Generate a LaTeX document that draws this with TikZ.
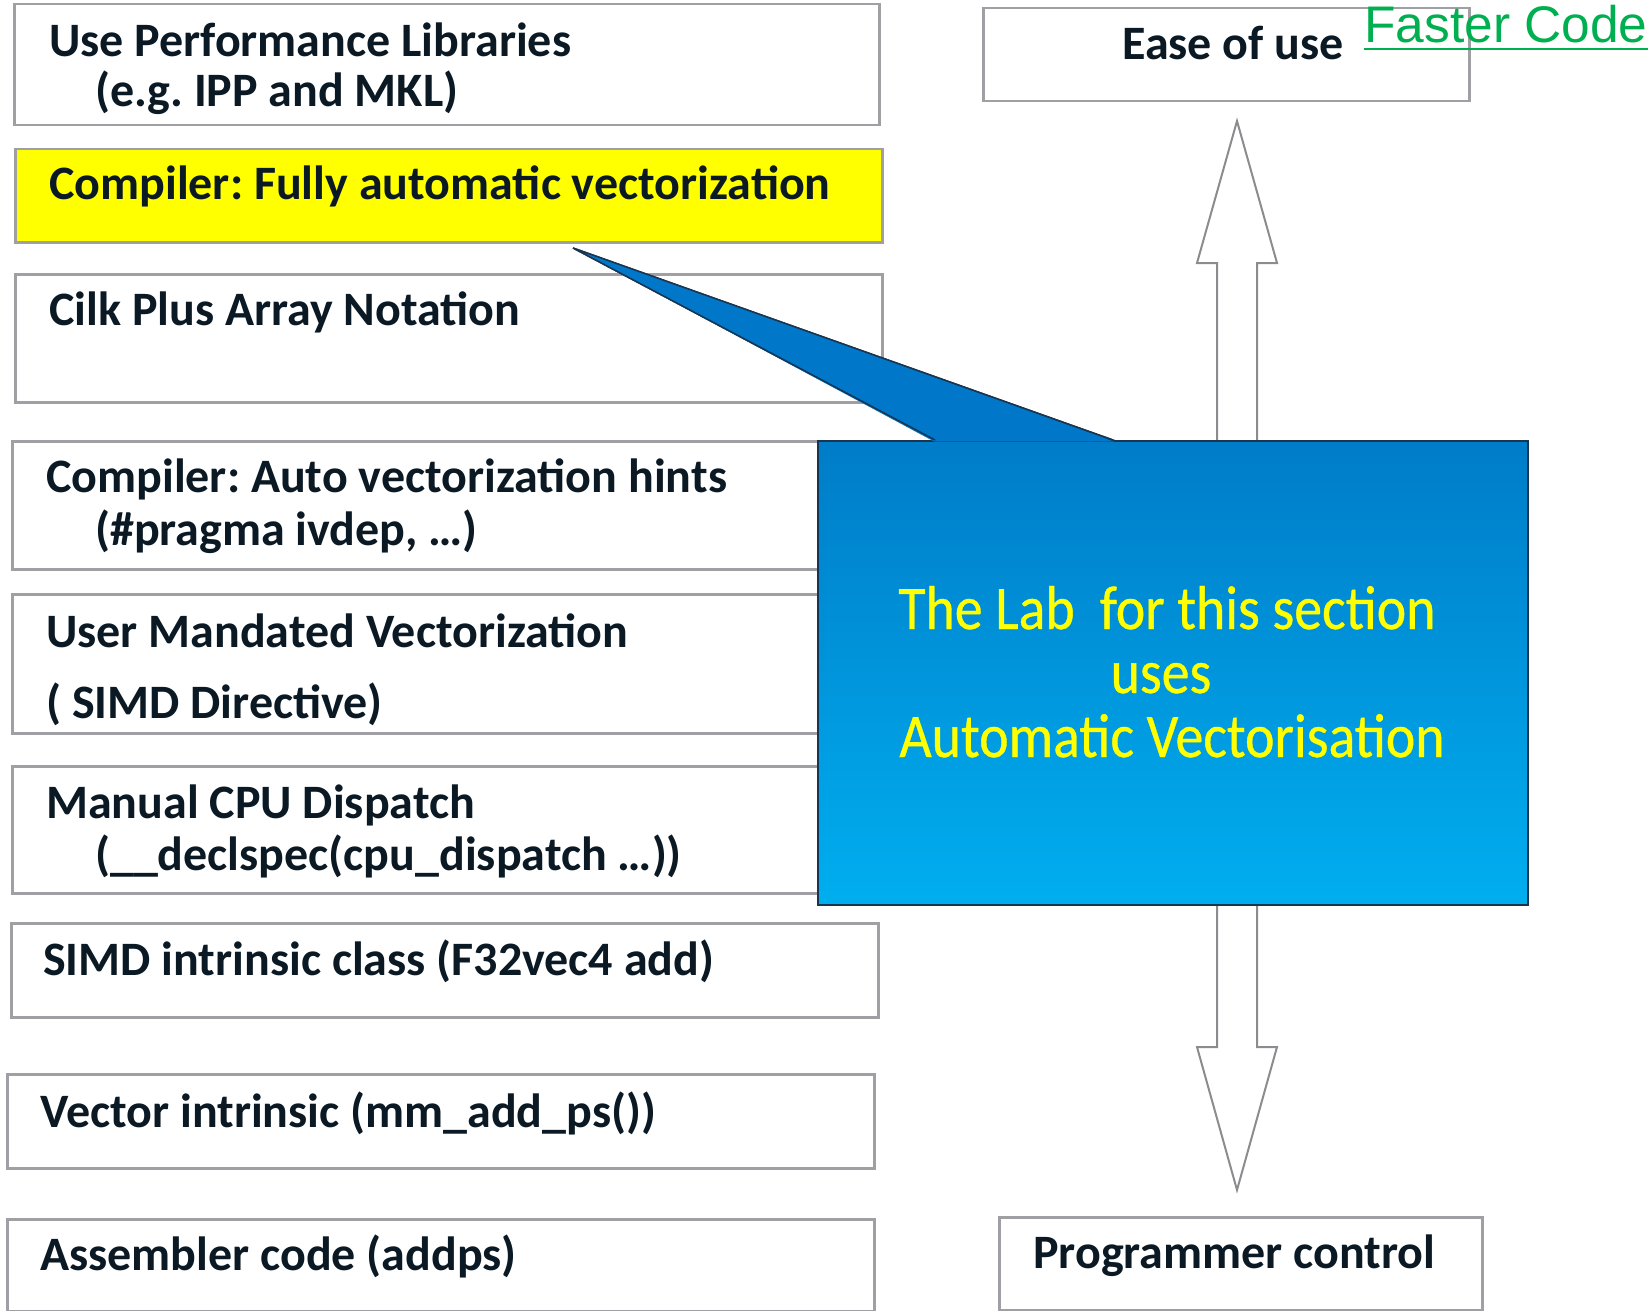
\documentclass[tikz,border=0pt]{standalone}
\usepackage{fontspec}
\setmainfont{Carlito}
\newfontfamily\callfont[FakeStretch=0.9,FakeBold=0.6]{Carlito}
\newfontfamily\fastfont{Liberation Sans}
\usetikzlibrary{calc}
\frenchspacing
\definecolor{boxline}{HTML}{A0A0A4}
\definecolor{boxtext}{HTML}{0A1923}
\definecolor{hiyellow}{HTML}{FFFF00}
\definecolor{calltop}{HTML}{007CC8}
\definecolor{callbot}{HTML}{00AEEF}
\definecolor{callptr}{HTML}{0077C8}
\definecolor{callline}{HTML}{1A3550}
\definecolor{arrowline}{HTML}{8C8C90}
\definecolor{fastgreen}{HTML}{00B050}
\tikzset{
  box/.style={draw=boxline, line width=2.5pt, fill=white, anchor=north west, inner sep=0pt},
  btext/.style={anchor=base west, inner sep=0pt, text=boxtext, font=\fontsize{48}{56}\selectfont\bfseries},
  ctext/.style={anchor=base, inner sep=0pt, text=hiyellow, font=\fontsize{62}{64}\selectfont\callfont},
}
\begin{document}
\begin{tikzpicture}[x=1pt,y=-1pt]
\useasboundingbox (0,0) rectangle (1652,1311);
% left boxes
\node[box, minimum width=865pt, minimum height=121pt] (b1) at (13,3) {};
\node[box, fill=hiyellow, minimum width=867pt, minimum height=93pt] (b2) at (14,148) {};
\node[box, minimum width=867pt, minimum height=128pt] (b3) at (14,273) {};
\node[box, minimum width=869pt, minimum height=128pt] (b4) at (11,440) {};
\node[box, minimum width=869pt, minimum height=139pt] (b5) at (11,593) {};
\node[box, minimum width=869pt, minimum height=127pt] (b6) at (11,765) {};
\node[box, minimum width=867pt, minimum height=94pt] (b7) at (10,922) {};
\node[box, minimum width=867pt, minimum height=94pt] (b8) at (6,1073) {};
\node[box, minimum width=867pt, minimum height=92pt] (b9) at (6,1218) {};
\node[btext] (t1a) at (49,57) {Use Performance Libraries};
\node[btext] (t1b) at (95,107) {(e.g. IPP and MKL)};
\node[btext] (t2) at (49,200) {Compiler: Fully automatic vectorization};
\node[btext] (t3) at (49,325) {Cilk Plus Array Notation};
\node[btext] (t4a) at (46,492) {Compiler: Auto vectorization hints};
\node[btext] (t4b) at (95,545) {(\#pragma ivdep, \dots)};
\node[btext] (t5a) at (46,647) {User Mandated Vectorization};
\node[btext] (t5b) at (46,718) {( SIMD Directive)};
\node[btext] (t6a) at (46,818) {Manual CPU Dispatch};
\node[btext] (t6b) at (95,870) {(\_\_declspec(cpu\_dispatch \dots))};
\node[btext] (t7) at (43,975) {SIMD intrinsic class (F32vec4 add)};
\node[btext] (t8) at (40,1127) {Vector intrinsic (mm\_add\_ps())};
\node[btext] (t9) at (40,1270) {Assembler code (addps)};
% right boxes
\node[box, minimum width=486pt, minimum height=93pt] (ease) at (982,7) {};
\node[btext] (teas) at (1122,60) {Ease of use};
\node[box, minimum width=483pt, minimum height=93pt] (prog) at (998,1216) {};
\node[btext] (tprog) at (1033,1268) {Programmer control};
\node[anchor=base west, inner sep=0pt, text=fastgreen, font=\fontsize{51.5}{56}\selectfont\fastfont] (fast) at (1364,43) {Faster Code};
\draw[fastgreen, line width=2.5pt] (fast.base west) ++(0,6) coordinate (ul1) -- (ul1 -| fast.base east);
% double block arrow
\draw[arrowline, line width=2pt, fill=white, line join=miter]
  (1237,121) -- (1277,263) -- (1257,263) -- (1257,1047) -- (1277,1047) -- (1237,1190)
  -- (1197,1047) -- (1217,1047) -- (1217,263) -- (1197,263) -- cycle;
% callout
\coordinate (tip) at (573,248);
\draw[callline, line width=1.5pt, fill=callptr] (tip) -- (1113,440) -- (935,440) -- cycle;
\node[draw=callline, line width=1.5pt, top color=calltop, bottom color=callbot,
  minimum width=710pt, minimum height=464pt, inner sep=0pt, anchor=north west] (call) at (817,440) {};
\fill[callptr] (tip) -- (1114,441.5) -- (934,441.5) -- cycle;
\draw[callline, line width=1.5pt] (935,440) -- (tip) -- (1113,440);
\node[ctext] (c1) at (1167,629) {The Lab~ for this section};
\node[ctext] (c2) at (1161,693) {uses};
\node[ctext] (c3) at (1172,757) {Automatic Vectorisation};
\end{tikzpicture}
\end{document}
